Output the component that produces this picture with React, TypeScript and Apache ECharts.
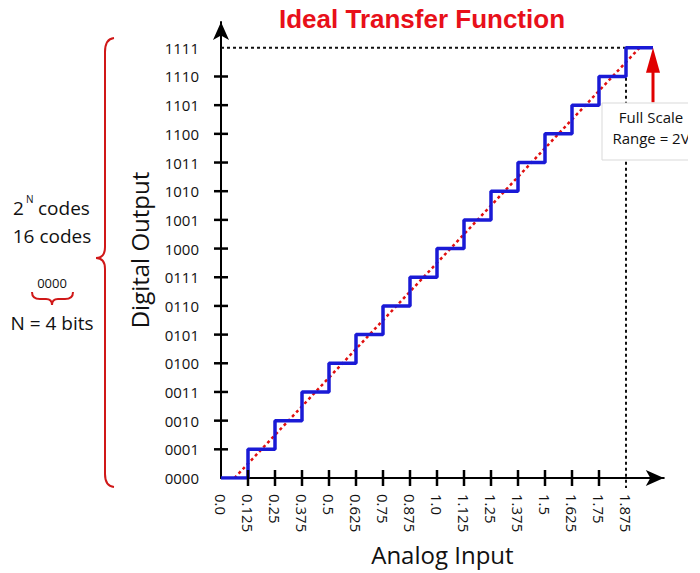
import React, { useEffect, useRef } from "react";
import * as echarts from "echarts";

// ---- data ----
const yLabels = ["0000","0001","0010","0011","0100","0101","0110","0111","1000","1001","1010","1011","1100","1101","1110","1111"];
const xLabels = ["0.0","0.125","0.25","0.375","0.5","0.625","0.75","0.875","1.0","1.125","1.25","1.375","1.5","1.625","1.75","1.875"];
const stepInputs = [0,0.125,0.25,0.375,0.5,0.625,0.75,0.875,1.0,1.125,1.25,1.375,1.5,1.625,1.75,1.875,2.0];
const stepCodes = [0,1,2,3,4,5,6,7,8,9,10,11,12,13,14,15,15];
const idealInputs = [0.0625, 1.9375];
const idealCodes = [0, 15];
const xTickVals = [0.125,0.25,0.375,0.5,0.625,0.75,0.875,1.0,1.125,1.25,1.375,1.5,1.625,1.75];
const yTickVals = [1,2,3,4,5,6,7,8,9,10,11,12,13,14];
const fullScaleInput = 2.0;
const arrowFromCode = 13.1;
const topCode = 15;
const lastStepInput = 1.875;

const bigBrace = "M 114 38 Q 105 39 105 52 L 105 247 Q 105 258 96 258 Q 105 258 105 269 L 105 474 Q 105 486 114 487";
const smallBrace = "M 32 292 Q 32 299 40 299 L 46 299 Q 52 299 52 305 Q 52 299 58 299 L 65 299 Q 73 299 73 292";

export default function App() {
  const ref = useRef<HTMLDivElement>(null);
  useEffect(() => {
    document.body.style.margin = "0";
    echarts.graphic.registerShape("braceBig", echarts.graphic.extendPath(bigBrace, {}));
    echarts.graphic.registerShape("braceSmall", echarts.graphic.extendPath(smallBrace, {}));
    const chart = echarts.init(ref.current!, undefined, { renderer: "svg" });
    const font = "Open Sans";
    const xFmt = (v: number) => {
      const i = Math.round(v / 0.125);
      return Math.abs(i * 0.125 - v) < 1e-6 && i < xLabels.length ? xLabels[i] : "";
    };
    const yFmt = (v: number) => {
      const i = Math.round(v);
      return Math.abs(i - v) < 1e-6 && i < yLabels.length ? yLabels[i] : "";
    };
    // guide rows: [x1, y1, x2, y2, extra px below]
    const guides = [
      [0, topCode, lastStepInput, topCode, 0],
      [lastStepInput, topCode, lastStepInput, 0, 10],
    ];
    const staticGraphic: any[] = [
      { type: "text", x: 422, y: 19, z: 100, style: { text: "Ideal Transfer Function", textAlign: "center", textVerticalAlign: "middle", font: "bold 26px 'Liberation Sans', Arial, sans-serif", fill: "#e8101a" } },
      { type: "rect", z: 100, shape: { x: 602, y: 103, width: 110, height: 57 }, style: { fill: "#fff", stroke: "#d9d9d9", lineWidth: 1 } },
      { type: "text", x: 651, y: 117, z: 101, style: { text: "Full Scale", textAlign: "center", textVerticalAlign: "middle", font: `15px '${font}'`, fill: "#111" } },
      { type: "text", x: 651, y: 138, z: 101, style: { text: "Range = 2V", textAlign: "center", textVerticalAlign: "middle", font: `15px '${font}'`, fill: "#111" } },
      { type: "rect", z: 102, shape: { x: 688, y: 100, width: 12, height: 64 }, style: { fill: "#fff" } },
      { type: "braceBig", x: 0, y: 0, z: 100, style: { stroke: "#d01818", fill: "none", lineWidth: 2 } },
      { type: "braceSmall", x: 0, y: 0, z: 100, style: { stroke: "#d01818", fill: "none", lineWidth: 2 } },
      { type: "text", x: 13, y: 208, z: 100, style: { text: "2", textVerticalAlign: "middle", font: `19px '${font}'`, fill: "#111" } },
      { type: "text", x: 26, y: 199, z: 100, style: { text: "N", textVerticalAlign: "middle", font: `10px '${font}'`, fill: "#111" } },
      { type: "text", x: 38, y: 208, z: 100, style: { text: "codes", textVerticalAlign: "middle", font: `19px '${font}'`, fill: "#111" } },
      { type: "text", x: 52, y: 236, z: 100, style: { text: "16 codes", textAlign: "center", textVerticalAlign: "middle", font: `19px '${font}'`, fill: "#111" } },
      { type: "text", x: 52, y: 283, z: 100, style: { text: "0000", textAlign: "center", textVerticalAlign: "middle", font: `13px '${font}'`, fill: "#111" } },
      { type: "text", x: 52, y: 323, z: 100, style: { text: "N = 4 bits", textAlign: "center", textVerticalAlign: "middle", font: `19px '${font}'`, fill: "#111" } },
    ];
    chart.setOption({
      animation: false,
      backgroundColor: "#ffffff",
      grid: { left: 221, top: 22, width: 442.8, height: 456 },
      xAxis: {
        type: "value", min: 0, max: 2.05, interval: 0.125, splitLine: { show: false },
        name: "Analog Input", nameLocation: "middle", nameGap: 64,
        nameTextStyle: { fontFamily: font, fontSize: 24, color: "#111" },
        axisLine: { show: true, symbol: ["none", "arrow"], symbolSize: [12, 18], lineStyle: { color: "#000", width: 2 } },
        axisTick: { show: false },
        axisLabel: { rotate: -90, margin: 16, formatter: xFmt, fontFamily: font, fontSize: 15, color: "#111" },
      },
      yAxis: {
        type: "value", min: 0, max: 15.9, interval: 1, splitLine: { show: false },
        name: "Digital Output", nameLocation: "middle", nameGap: 70,
        nameTextStyle: { fontFamily: font, fontSize: 24, color: "#111" },
        axisLine: { show: true, symbol: ["none", "arrow"], symbolSize: [12, 18], lineStyle: { color: "#000", width: 2 } },
        axisTick: { show: false },
        axisLabel: { margin: 22, formatter: yFmt, fontFamily: font, fontSize: 15, color: "#111" },
      },
      series: [
        {
          type: "custom", silent: true, z: 2, clip: false,
          data: guides,
          renderItem: (_p: any, api: any) => {
            const a = api.coord([api.value(0), api.value(1)]);
            const b = api.coord([api.value(2), api.value(3)]);
            return { type: "line", shape: { x1: a[0], y1: a[1], x2: b[0], y2: b[1] + api.value(4) }, style: { stroke: "#111", lineWidth: 2, lineDash: [3, 3] } };
          },
        },
        {
          type: "line", showSymbol: false, silent: true,
          lineStyle: { color: "#e01010", width: 2.5, type: [3, 3] },
          data: idealInputs.map((x, i) => [x, idealCodes[i]]),
          z: 3,
        },
        {
          type: "line", step: "end", showSymbol: false, silent: true,
          lineStyle: { color: "#1a1ad6", width: 3.5 },
          data: stepInputs.map((x, i) => [x, stepCodes[i]]),
          z: 4,
        },
        {
          type: "custom", silent: true, z: 7, clip: false,
          data: [[fullScaleInput, arrowFromCode, topCode]],
          renderItem: (_p: any, api: any) => {
            const a = api.coord([api.value(0), api.value(1)]);
            const b = api.coord([api.value(0), api.value(2)]);
            const headLen = 25, headW = 14;
            return {
              type: "group",
              children: [
                { type: "line", shape: { x1: a[0], y1: a[1], x2: b[0], y2: b[1] + headLen - 2 }, style: { stroke: "#e00000", lineWidth: 3 } },
                { type: "polygon", shape: { points: [[b[0], b[1]], [b[0] - headW / 2, b[1] + headLen], [b[0] + headW / 2, b[1] + headLen]] }, style: { fill: "#e00000" } },
              ],
            };
          },
        },
      ],
      graphic: staticGraphic,
    });
    // cross-shaped axis ticks, placed through the axes' own scales
    const tickRects: any[] = [];
    xTickVals.forEach((v) => {
      const p = chart.convertToPixel({ gridIndex: 0 }, [v, 0]) as number[];
      tickRects.push({ type: "rect", z: 90, shape: { x: p[0] - 1.25, y: p[1] - 8, width: 2.5, height: 16 }, style: { fill: "#000" } });
    });
    yTickVals.forEach((v) => {
      const p = chart.convertToPixel({ gridIndex: 0 }, [0, v]) as number[];
      tickRects.push({ type: "rect", z: 90, shape: { x: p[0] - 7, y: p[1] - 1.25, width: 14, height: 2.5 }, style: { fill: "#000" } });
    });
    chart.setOption({ graphic: [...staticGraphic, ...tickRects] });
    return () => chart.dispose();
  }, []);
  return <div ref={ref} style={{ width: 700, height: 573 }} />;
}
